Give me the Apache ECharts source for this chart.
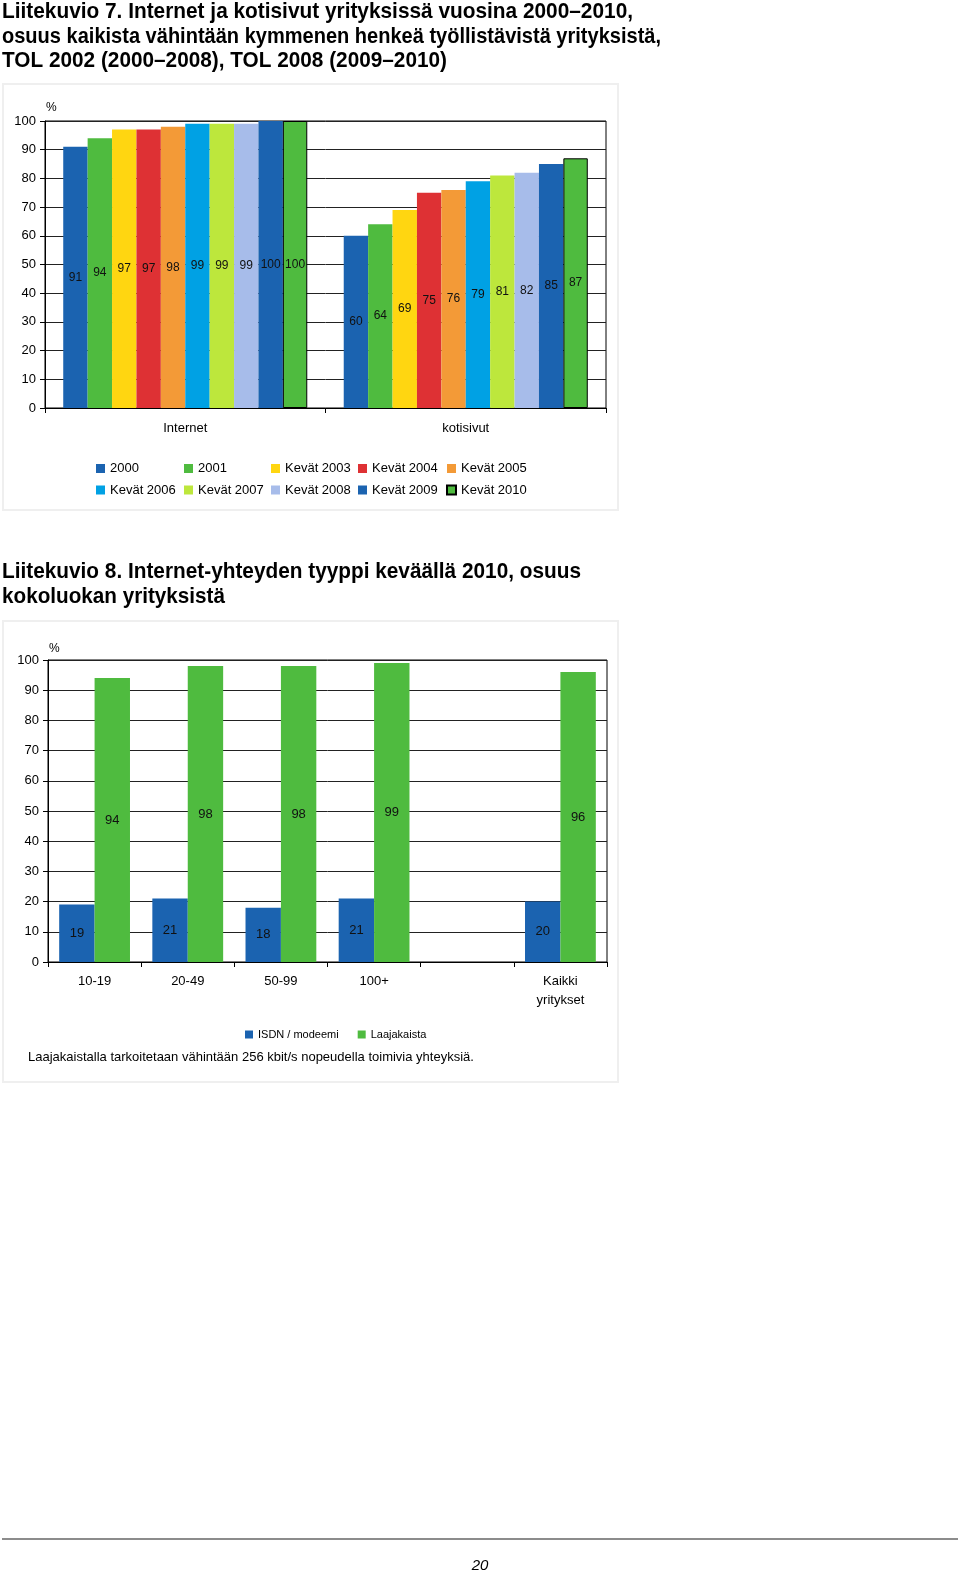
<!DOCTYPE html>
<html><head><meta charset="utf-8">
<script src="https://cdn.jsdelivr.net/npm/echarts@6/dist/echarts.min.js"></script>
<style>html,body{margin:0;padding:0;background:#fff}#c{width:960px;height:1572px}</style>
</head><body><div id="c"></div>
<script>
// ---------- Chart 1 data ----------
const categories1 = ['Internet', 'kotisivut'];
const seriesNames1 = ['2000', '2001', 'Kevät 2003', 'Kevät 2004', 'Kevät 2005',
                      'Kevät 2006', 'Kevät 2007', 'Kevät 2008', 'Kevät 2009', 'Kevät 2010'];
const v2000 = [91, 60];
const v2001 = [94, 64];
const vK2003 = [97, 69];
const vK2004 = [97, 75];
const vK2005 = [98, 76];
const vK2006 = [99, 79];
const vK2007 = [99, 81];
const vK2008 = [99, 82];
const vK2009 = [100, 85];
const vK2010 = [100, 87];
const values1 = [v2000, v2001, vK2003, vK2004, vK2005, vK2006, vK2007, vK2008, vK2009, vK2010];
const yTicks = [0, 10, 20, 30, 40, 50, 60, 70, 80, 90, 100];

// ---------- Chart 2 data ----------
const categories2 = ['10-19', '20-49', '50-99', '100+', '', 'Kaikki\nyritykset'];
const seriesNames2 = ['ISDN / modeemi', 'Laajakaista'];
const isdn = [19, 21, 18, 21, null, 20];
const laajakaista = [94, 98, 98, 99, null, 96];

// ---------- texts ----------
const title1Lines = ['Liitekuvio 7. Internet ja kotisivut yrityksissä vuosina 2000–2010,',
                     'osuus kaikista vähintään kymmenen henkeä työllistävistä yrityksistä,',
                     'TOL 2002 (2000–2008), TOL 2008 (2009–2010)'];
const title2Lines = ['Liitekuvio 8. Internet-yhteyden tyyppi keväällä 2010, osuus',
                     'kokoluokan yrityksistä'];
const noteText = 'Laajakaistalla tarkoitetaan vähintään 256 kbit/s nopeudella toimivia yhteyksiä.';
const pageNumber = '20';

// ---------- styles ----------
const colors1 = ['#1b63b0', '#4fbb3f', '#ffd611', '#de3134', '#f39a37',
                 '#00a1e4', '#bde73c', '#a7bcea', '#1b63b0', '#4fbb3f'];
const colors2 = ['#1b63b0', '#4fbb3f'];
const FONT = "'Liberation Sans', Arial, sans-serif";
const TITLE_FONT = "bold 22px 'Liberation Sans', Arial, sans-serif";

// title line layout: [line centre y, target width]
const title1Layout = [[12, 631], [36.5, 659], [61, 445]];
const title2Layout = [[572, 579], [596.5, 223]];

const measureCtx = document.createElement('canvas').getContext('2d');
measureCtx.font = TITLE_FONT;
function titleText(text, lay) {
  const w = measureCtx.measureText(text).width;
  return {type: 'text', x: 2, y: lay[0], scaleX: lay[1] / w,
          style: {text: text, font: TITLE_FONT, fill: '#000', verticalAlign: 'middle', align: 'left'}};
}

const chart = echarts.init(document.getElementById('c'), null, {renderer: 'canvas'});

const yAxisCommon = {
  type: 'value', min: 0, max: 100, interval: 10,
  axisLine: {show: true, lineStyle: {color: '#000', width: 1}},
  axisTick: {show: true, length: 5, lineStyle: {color: '#000'}},
  splitLine: {show: true, lineStyle: {color: '#222', width: 1}},
  axisLabel: {color: '#000', fontFamily: FONT, fontSize: 13, margin: 9,
              formatter: v => yTicks.includes(v) ? String(v) : ''}
};

const series = [];
seriesNames1.forEach((name, i) => {
  series.push({
    type: 'bar', name: name, xAxisIndex: 0, yAxisIndex: 0,
    data: values1[i],
    barGap: '0%', barCategoryGap: '13%',
    itemStyle: i === 9 ? {color: colors1[i], borderColor: '#000', borderWidth: 1} : {color: colors1[i]},
    label: {show: true, position: 'inside', color: '#111', fontFamily: FONT, fontSize: 12},
    emphasis: {disabled: true}
  });
});
[isdn, laajakaista].forEach((arr, i) => {
  series.push({
    type: 'bar', name: seriesNames2[i], xAxisIndex: 1, yAxisIndex: 1,
    data: arr, barGap: '0%', barCategoryGap: '24%',
    itemStyle: {color: colors2[i]},
    label: {show: true, position: 'inside', color: '#111', fontFamily: FONT, fontSize: 13},
    emphasis: {disabled: true}
  });
});

// legends for chart 1: five columns of two rows
const colLefts = [96, 184, 271, 358, 446];
const legends = colLefts.map((left, c) => ({
  orient: 'vertical', left: left, top: 461.5, padding: 0,
  data: [{name: seriesNames1[c]}, {name: seriesNames1[c + 5]}],
  itemWidth: 9, itemHeight: 9, itemGap: 7.5, icon: 'rect',
  textStyle: {color: '#000', fontFamily: FONT, fontSize: 13, lineHeight: 14},
  selectedMode: false
}));
legends.push({
  orient: 'horizontal', left: 245, top: 1027.5, padding: 0,
  data: seriesNames2.map(n => ({name: n})),
  itemWidth: 8, itemHeight: 8, itemGap: 19, icon: 'rect',
  textStyle: {color: '#000', fontFamily: FONT, fontSize: 11, lineHeight: 14},
  selectedMode: false
});

const graphics = [
  {type: 'rect', shape: {x: 3, y: 84, width: 615, height: 426}, style: {fill: 'none', stroke: '#efefef', lineWidth: 2}, silent: true, z: -10},
  {type: 'rect', shape: {x: 3, y: 621, width: 615, height: 461}, style: {fill: 'none', stroke: '#efefef', lineWidth: 2}, silent: true, z: -10},
  {type: 'text', left: 46, top: 102, style: {text: '%', font: '12px ' + FONT, fill: '#000'}},
  {type: 'text', left: 49, top: 643, style: {text: '%', font: '12px ' + FONT, fill: '#000'}},
  {type: 'text', left: 28, top: 1051, style: {text: noteText, font: '13px ' + FONT, fill: '#000'}},
  {type: 'line', shape: {x1: 2, y1: 1539, x2: 958, y2: 1539}, style: {stroke: '#8c8c8c', lineWidth: 2}},
  {type: 'text', left: 'center', top: 1558, style: {text: pageNumber, font: 'italic 15px ' + FONT, fill: '#000'}}
];
title1Lines.forEach((t, i) => graphics.push(titleText(t, title1Layout[i])));
title2Lines.forEach((t, i) => graphics.push(titleText(t, title2Layout[i])));

const option = {
  backgroundColor: '#fff',
  animation: false,
  grid: [
    {left: 45, top: 121, width: 561, height: 287, show: true, borderColor: '#000', borderWidth: 1, backgroundColor: 'transparent'},
    {left: 48, top: 660, width: 559, height: 302, show: true, borderColor: '#000', borderWidth: 1, backgroundColor: 'transparent'}
  ],
  xAxis: [
    {type: 'category', gridIndex: 0, data: categories1,
     axisLine: {lineStyle: {color: '#000'}},
     axisTick: {show: true, length: 5, interval: 0, lineStyle: {color: '#000'}},
     axisLabel: {color: '#000', fontFamily: FONT, fontSize: 13, margin: 14}},
    {type: 'category', gridIndex: 1, data: categories2,
     axisLine: {lineStyle: {color: '#000'}},
     axisTick: {show: true, length: 5, interval: 0, lineStyle: {color: '#000'}},
     axisLabel: {color: '#000', fontFamily: FONT, fontSize: 13, margin: 10, lineHeight: 19, interval: 0}}
  ],
  yAxis: [
    Object.assign({gridIndex: 0}, yAxisCommon),
    Object.assign({gridIndex: 1}, yAxisCommon)
  ],
  legend: legends,
  series: series,
  graphic: graphics
};
chart.setOption(option);
</script>
</body></html>
